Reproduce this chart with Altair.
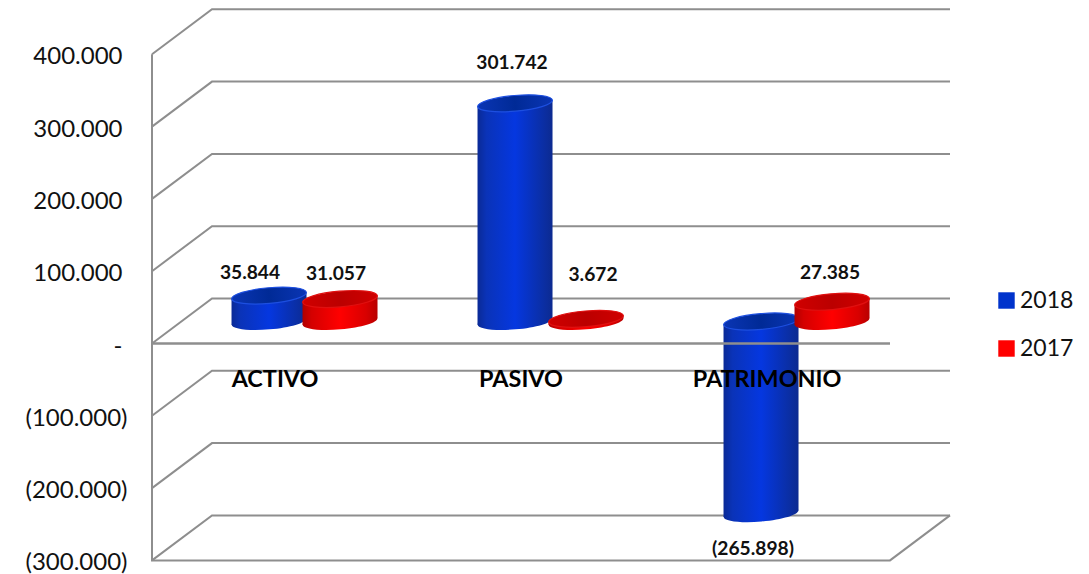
import altair as alt
import pandas as pd

categories = ["ACTIVO", "PASIVO", "PATRIMONIO"]
series_names = ["2018", "2017"]
values_2018 = [35844, 301742, -265898]
values_2017 = [31057, 3672, 27385]
tick_values = [400000, 300000, 200000, 100000, 0, -100000, -200000, -300000]
legend_colors = ["#0033cc", "#ff0000"]

# geometry expressed in axis units
PX_X = 246.0      # pixels per category
PX_Y = 0.723 / 1000  # pixels per unit of value
DEPTH_X = 60 / PX_X
DEPTH_Y = 45 / PX_Y
LEFT = -0.62
RIGHT = LEFT + 798 / PX_X
FRONT_RIGHT = LEFT + 738 / PX_X
BACK_LEFT = LEFT + DEPTH_X
HALF_W = 37.5 / PX_X
SERIES_OFF = 35.5 / PX_X
TILT = 3.2 / PX_Y
BASE = 22 / PX_Y
CAP_SIZE = 75 ** 2
ELLIPSE = "M-1,0 A1,0.21 0 1 1 1,0 A1,0.21 0 1 1 -1,0 Z"

x_scale = alt.Scale(domain=[LEFT, RIGHT], nice=False, zero=False)
y_scale = alt.Scale(domain=[-224.5 / PX_Y, 335.5 / PX_Y], nice=False, zero=False)
color_scale = alt.Scale(domain=series_names, range=legend_colors)

label_expr = (
    "datum.value == 0 ? '-' : datum.value < 0 ? "
    "'(' + replace(format(-datum.value, ','), ',', '.') + ')' : "
    "replace(format(datum.value, ','), ',', '.')"
)
X = alt.X("x:Q", scale=x_scale, axis=None)
Y = alt.Y(
    "y:Q",
    scale=y_scale,
    axis=alt.Axis(
        values=tick_values, labelExpr=label_expr, title=None, grid=False, domain=False,
        ticks=False,
        labelPadding=alt.condition("datum.value >= 0", alt.value(30), alt.value(25)),
        labelOffset=2.5,
        labelFont="Lato", labelFontSize=24,
        labelColor="#111111", labelOverlap=False, labelFlush=False,
    ),
)


def grad(stops):
    return alt.LinearGradient(
        gradient="linear", x1=0, x2=1, y1=0, y2=0,
        stops=[alt.GradientStop(color=c, offset=o) for o, c in stops],
    )


BODY = {
    "2018": grad([(0, "#0a2a96"), (0.12, "#0a33b8"), (0.5, "#0537e0"), (0.85, "#0a2fa8"), (1, "#0c2a90")]),
    "2017": grad([(0, "#b00000"), (0.12, "#d40000"), (0.5, "#ff0000"), (0.85, "#d80000"), (1, "#b80000")]),
}
CAP = {
    "2018": grad([(0, "#0a35b4"), (0.5, "#002a96"), (1, "#0a35b4")]),
    "2017": grad([(0, "#d00000"), (0.5, "#bb0000"), (1, "#d00000")]),
}
RIM = {"2018": "#1d4fe0", "2017": "#e01010"}

# wall lines
rows = []
for i, t in enumerate(tick_values):
    rows += [
        {"g": i, "o": 0, "x": LEFT, "y": t},
        {"g": i, "o": 1, "x": BACK_LEFT, "y": t + DEPTH_Y},
        {"g": i, "o": 2, "x": RIGHT, "y": t + DEPTH_Y},
    ]
rows += [
    {"g": 100, "o": 0, "x": LEFT, "y": tick_values[0]},
    {"g": 100, "o": 1, "x": LEFT, "y": tick_values[-1]},
    {"g": 100, "o": 2, "x": FRONT_RIGHT, "y": tick_values[-1]},
    {"g": 100, "o": 3, "x": RIGHT, "y": tick_values[-1] + DEPTH_Y},
]
LINE = "#8e8e8e"
walls = alt.Chart(pd.DataFrame(rows)).mark_line(color=LINE, strokeWidth=2, clip=False).encode(
    x=X, y=Y, detail="g:N", order="o:Q"
)

zero_line = alt.Chart(pd.DataFrame({"x": [LEFT, FRONT_RIGHT], "y": [0, 0]})).mark_line(
    color=LINE, strokeWidth=2.5
).encode(x=X, y=Y)

legend_layer = alt.Chart(
    pd.DataFrame({"x": [LEFT, LEFT], "y": [0, 0], "serie": series_names})
).mark_square(size=0, opacity=1).encode(
    x=X, y=Y,
    color=alt.Color(
        "serie:N", scale=color_scale, sort=series_names,
        legend=alt.Legend(
            title=None, orient="none", legendX=843, legendY=281, symbolType="square",
            symbolSize=270, symbolStrokeWidth=0, symbolOpacity=1, labelFont="Lato", labelFontSize=23,
            labelColor="#111111", rowPadding=24, labelOffset=2, labelLimit=90,
        ),
    ),
)

layers = [walls, legend_layer]

for k in range(len(categories)):
    for s, vals, sign in (("2018", values_2018, -1), ("2017", values_2017, 1)):
        v = vals[k]
        cx = k + sign * SERIES_OFF
        hi = BASE + max(v, 0)
        lo = BASE + min(v, 0)
        base_df = pd.DataFrame({"x": [cx], "y": [lo]})
        top_df = pd.DataFrame({"x": [cx], "y": [hi]})
        body_df = pd.DataFrame({
            "x": [cx - HALF_W, cx + HALF_W],
            "y": [hi - TILT, hi + TILT],
            "y2": [lo - TILT, lo + TILT],
        })
        layers.append(
            alt.Chart(base_df).mark_point(
                filled=True, shape=ELLIPSE, size=CAP_SIZE, angle=355, fill=BODY[s], opacity=1
            ).encode(x=X, y=Y)
        )
        layers.append(
            alt.Chart(body_df).mark_area(fill=BODY[s], opacity=1).encode(
                x=X, y=Y, y2=alt.Y2("y2:Q")
            )
        )
        layers.append(
            alt.Chart(top_df).mark_point(
                filled=True, shape=ELLIPSE, size=CAP_SIZE, angle=355, fill=CAP[s],
                stroke=RIM[s], strokeWidth=1.2, opacity=1,
            ).encode(x=X, y=Y)
        )

layers.append(zero_line)

# category names
cat_df = pd.DataFrame({
    "x": [i - DEPTH_X / 2 for i in range(len(categories))],
    "y": [-50000] * len(categories),
    "t": categories,
})
layers.append(
    alt.Chart(cat_df).mark_text(
        font="Lato", fontWeight="bold", fontSize=23.4, color="#000000", align="center", baseline="middle",
        dx=0.5,
    ).encode(x=X, y=Y, text="t:N")
)


def fmt(v):
    s = f"{abs(v):,}".replace(",", ".")
    return f"({s})" if v < 0 else s


label_shift = {
    ("2018", 0): (-19, -23), ("2017", 0): (-4, -25),
    ("2018", 1): (-3, -40), ("2017", 1): (7, -44),
    ("2018", 2): (-8, 35), ("2017", 2): (-2, -29),
}
for s, vals, sign in (("2018", values_2018, -1), ("2017", values_2017, 1)):
    for k, v in enumerate(vals):
        dx, dy = label_shift[(s, k)]
        df = pd.DataFrame({
            "x": [k + sign * SERIES_OFF],
            "y": [BASE + v],
            "t": [fmt(v)],
        })
        layers.append(
            alt.Chart(df).mark_text(
                font="Lato", fontWeight="bold", fontSize=19.2, color="#111111",
                align="center", baseline="middle", dx=dx, dy=dy,
            ).encode(x=X, y=Y, text="t:N")
        )

chart = alt.layer(*layers).properties(
    width=798, height=560,
    autosize=alt.AutoSizeParams(type="none"),
    padding={"left": 144, "top": 0, "right": 131, "bottom": 6},
    background="white",
).configure_view(stroke=None)

chart.save("out.html", embed_options={"renderer": "svg", "actions": False})
